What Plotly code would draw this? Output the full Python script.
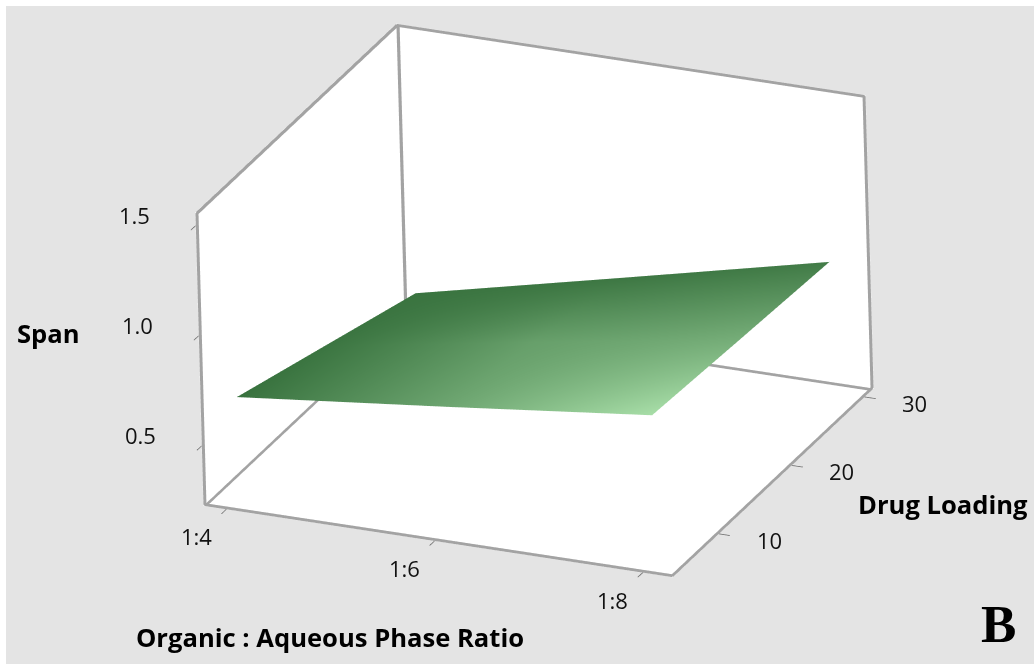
import plotly.graph_objects as go

# Data
ratio_values = [4, 6, 8]
ratio_labels = ["1:4", "1:6", "1:8"]
loading_values = [5.5, 17.5, 29.8]
loading_ticks = [10, 20, 30]
loading_labels = ["10", "20", "30"]
span_ticks = [0.5, 1.0, 1.5]
span_labels = ["0.5", "1.0", "1.5"]
# rows: loading, columns: ratio
span_grid = [
    [0.68, 0.78, 0.885],
    [0.54, 0.70, 0.855],
    [0.396, 0.61, 0.826],
]
shade_grid = [
    [0.00, 0.47, 1.00],
    [0.03, 0.42, 0.55],
    [0.02, 0.05, 0.09],
]
x_range = [3.78, 8.29]
y_range = [3.66, 31.24]
z_range = [0.227, 1.56]

LINE = "#A3A3A3"
BG = "#E4E4E4"
K = 1.066

fig = go.Figure()
fig.add_trace(go.Surface(
    x=ratio_values, y=loading_values, z=span_grid, surfacecolor=shade_grid,
    cmin=0, cmax=1,
    colorscale=[[0, "#38723E"], [1, "#A8DEA8"]],
    showscale=False, hoverinfo="skip",
    lighting=dict(ambient=1, diffuse=0, specular=0, roughness=1, fresnel=0),
))

# Box edges: WebGL lines are one pixel wide, so each edge is several parallel lines
rng = [x_range, y_range, z_range]
# (axis along the edge, {other axis: (end of range, inset step)})
edges = [
    (0, {1: (0, 0.0012), 2: (0, 0.0012)}),
    (0, {1: (1, 0.0030), 2: (0, 0.0003)}),
    (0, {1: (1, 0.0012), 2: (1, 0.0012)}),
    (1, {0: (1, 0.0010), 2: (0, 0.0010)}),
    (1, {0: (0, 0.0020), 2: (0, 0.0010)}),
    (1, {0: (0, 0.0012), 2: (1, 0.0012)}),
    (2, {0: (0, 0.0010), 1: (0, 0.0010)}),
    (2, {0: (0, 0.0020), 1: (1, 0.0010)}),
    (2, {0: (1, 0.0010), 1: (1, 0.0010)}),
]
ex, ey, ez = [], [], []
for along, others in edges:
    for n in range(1, 5):
        a, b = [None, None, None], [None, None, None]
        lo, hi = rng[along]
        a[along] = lo + 0.002 * (hi - lo)
        b[along] = hi - 0.002 * (hi - lo)
        for ax, (end, step) in others.items():
            lo, hi = rng[ax]
            sign = 1 if end == 0 else -1
            a[ax] = b[ax] = rng[ax][end] + sign * n * step * (hi - lo)
        ex += [a[0], b[0], None]
        ey += [a[1], b[1], None]
        ez += [a[2], b[2], None]
fig.add_trace(go.Scatter3d(
    x=ex, y=ey, z=ez, mode="lines",
    line=dict(color=LINE, width=2), hoverinfo="skip", showlegend=False,
))

def axis(vals, rng_, ticklen):
    return dict(
        range=rng_, tickvals=vals, title=dict(text=""),
        showgrid=False, zeroline=False, showline=False,
        showbackground=True, backgroundcolor="white",
        ticks="outside", ticklen=ticklen, tickwidth=2, tickcolor="#707070",
        showticklabels=False, showspikes=False, autorange=False,
    )

def label(text, px, py, family="Open Sans", size=25.6):
    return dict(text=text, x=px / 1034, y=1 - py / 664, xref="paper", yref="paper",
                xanchor="center", yanchor="middle", showarrow=False,
                font=dict(family=family, size=size, color="#000000"))

def tick_label(text, x, y, z, dx, dy):
    return dict(text=text, x=x, y=y, z=z, xshift=dx, yshift=-dy, showarrow=False,
                xanchor="center", yanchor="middle",
                font=dict(family="Open Sans", size=22, color="#111111"))

tick_labels = (
    [tick_label(t, v, y_range[0], z_range[0], -30, 27) for t, v in zip(ratio_labels, ratio_values)]
    + [tick_label(t, x_range[1], v, z_range[0], 50, 6) for t, v in zip(loading_labels, loading_ticks)]
    + [tick_label(t, x_range[0], y_range[0], v, -61, -11) for t, v in zip(span_labels, span_ticks)]
)

fig.update_layout(
    width=1034, height=664, autosize=False,
    margin=dict(l=0, r=0, t=0, b=0),
    paper_bgcolor=BG,
    showlegend=False,
    scene=dict(
        domain=dict(x=[0.034, 1], y=[0.095, 1]),
        xaxis=axis(ratio_values, x_range, 12),
        yaxis=axis(loading_ticks, y_range, 12),
        zaxis=axis(span_ticks, z_range, 12),
        aspectmode="manual",
        aspectratio=dict(x=1.6 * K, y=1.567 * K, z=1.0 * K),
        camera=dict(
            projection=dict(type="orthographic"),
            center=dict(x=0, y=0, z=0),
            up=dict(x=-0.1393, y=0.3762, z=0.9160),
            eye=dict(x=0.376 * 1.886, y=-0.8356 * 1.886, z=0.4003 * 1.886),
        ),
        annotations=tick_labels,
    ),
    shapes=[
        dict(type="rect", xref="paper", yref="paper", x0=0, x1=1, y0=1 - 6 / 664, y1=1, fillcolor="white", line_width=0, layer="below"),
        dict(type="rect", xref="paper", yref="paper", x0=0, x1=6 / 1034, y0=0, y1=1, fillcolor="white", line_width=0, layer="below"),
    ],
    annotations=[
        label("<b>Span</b>", 48, 333),
        label("<b>Drug Loading</b>", 943, 504),
        label("<b>Organic : Aqueous Phase Ratio</b>", 330, 637),
        label("<b>B</b>", 998, 624, "Liberation Serif", 53),
    ],
)
fig.write_html("out.html", config=dict(displayModeBar=False),
               post_script="document.body.style.margin='0';")
